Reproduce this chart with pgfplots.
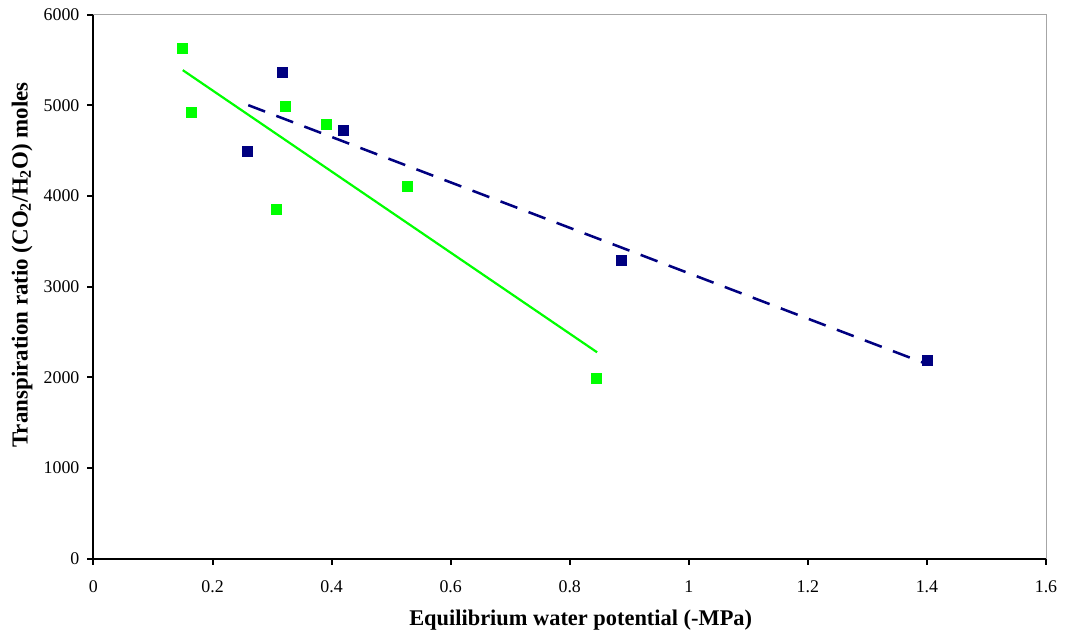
\documentclass[border=0pt]{standalone}
\usepackage{fontspec}
\setmainfont{Liberation Serif}
\usepackage{pgfplots}
\pgfplotsset{compat=1.18}

\definecolor{ptgreen}{HTML}{00FF00}
\definecolor{ptnavy}{HTML}{000080}

% measured points
\pgfplotstableread{
x      y
0.150  5627
0.165  4922
0.323  4984
0.308  3856
0.391  4793
0.527  4109
0.845  1989
}\greenpts
\pgfplotstableread{
x      y
0.318  5363
0.259  4488
0.420  4723
0.887  3286
1.401  2183
}\navypts

\begin{document}
\begin{tikzpicture}
\path[use as bounding box] (-70.1pt,-57.2pt) rectangle (729.4pt,419pt);
\begin{axis}[
    at={(0,0)}, anchor=south west,
    scale only axis,
    width=714.4pt, height=408pt,
    xmin=0, xmax=1.6, ymin=0, ymax=6000,
    axis x line*=bottom, axis y line*=left,
    axis line style={line width=1.5pt, black},
    xtick={0,0.2,...,1.6}, ytick={0,1000,...,6000},
    tick align=outside,
    major tick length=4.5pt,
    every tick/.style={black, line width=1.5pt},
    /pgf/number format/assume math mode=true,
    xticklabel style={font=\fontsize{13.4}{15}\selectfont, /pgf/number format/fixed, yshift=-8.5pt},
    yticklabel style={font=\fontsize{13.4}{15}\selectfont, /pgf/number format/1000 sep={}, xshift=-2.5pt},
    scaled ticks=false,
    xlabel={\textbf{Equilibrium water potential (-MPa)}},
    ylabel={\textbf{Transpiration ratio (CO\textsubscript{2}/H\textsubscript{2}O) moles}},
    every axis x label/.style={at={(axis description cs:0.5115,-0.1127)}, anchor=center, font=\fontsize{16.8}{18}\selectfont},
    every axis y label/.style={at={(axis description cs:-0.075,0.54)}, rotate=90, anchor=center, font=\fontsize{17.2}{18}\selectfont},
    clip=false,
]
\draw[gray!70, line width=0.75pt] (rel axis cs:0,1) -- (rel axis cs:1,1) -- (rel axis cs:1,0);

% trend lines
\addplot[ptgreen, line width=1.65pt, no marks] coordinates {(0.150,5388) (0.846,2276)};
\addplot[ptnavy, line width=1.9pt, no marks, dash pattern=on 13.5pt off 9pt] coordinates {(0.260,5002) (1.394,2161)};

\addplot[only marks, mark=square*, mark size=3.75pt, mark options={fill=ptgreen, draw=ptgreen, line width=0pt}] table {\greenpts};
\addplot[only marks, mark=square*, mark size=3.75pt, mark options={fill=ptnavy, draw=ptnavy, line width=0pt}] table {\navypts};
\end{axis}
\end{tikzpicture}
\end{document}
